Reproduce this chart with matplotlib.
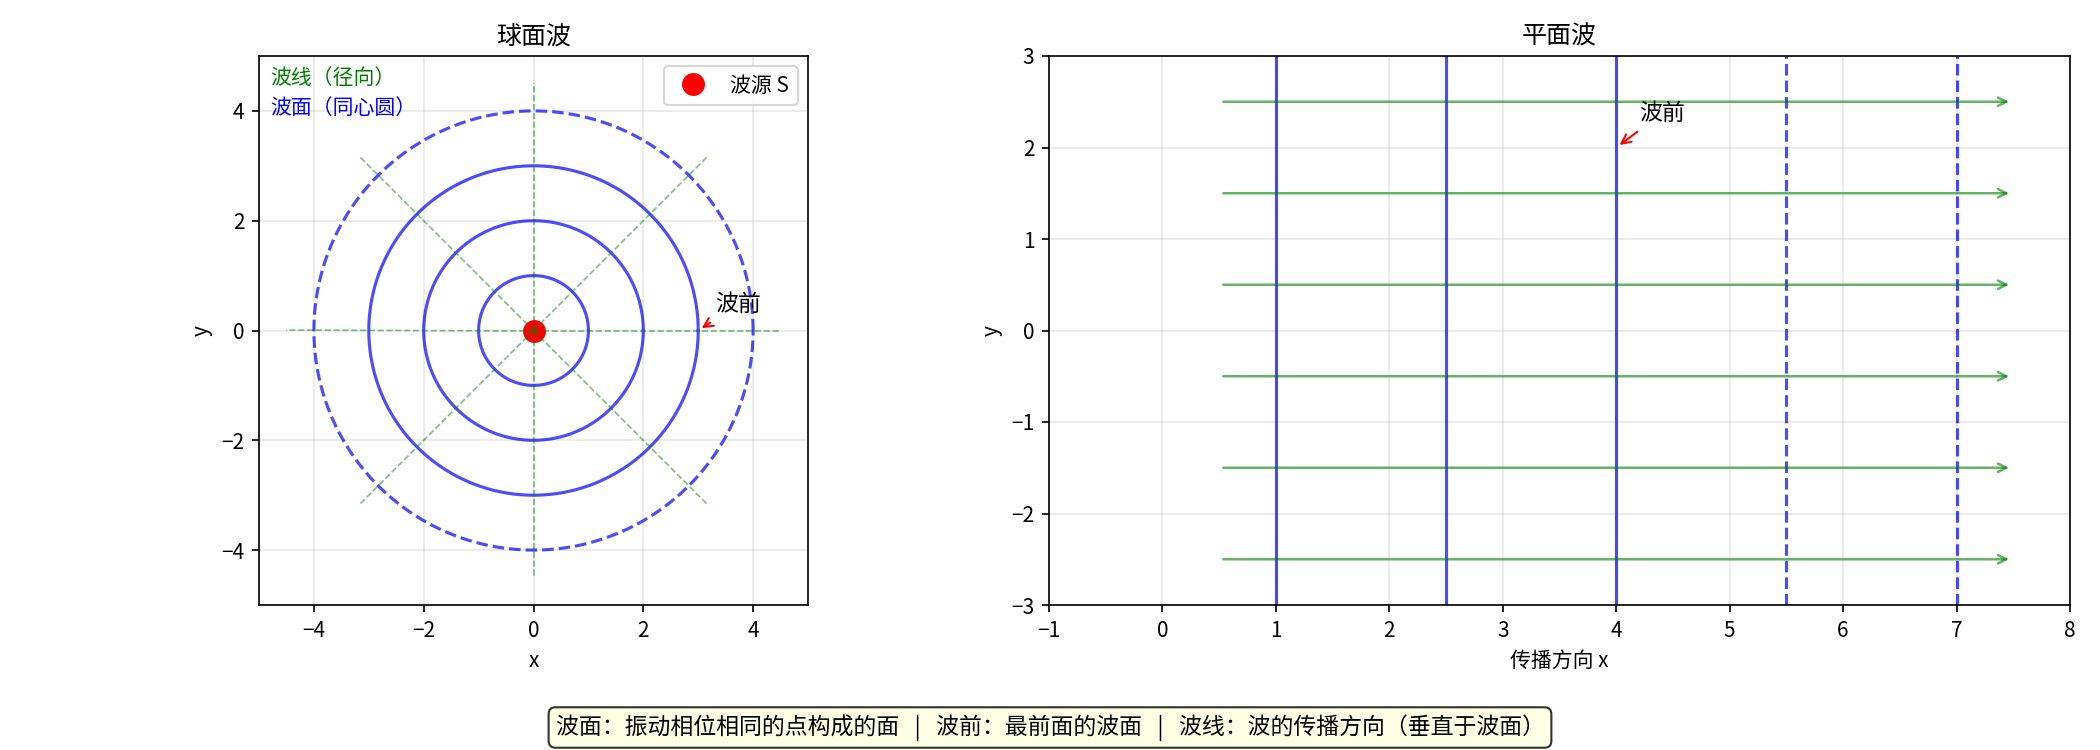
import matplotlib.pyplot as plt
import numpy as np

plt.rcParams['font.family'] = ['Noto Sans CJK SC', 'DejaVu Sans']

# spherical wave
radii = [1, 2, 3]
front_radius = 4
ray_angles_deg = [0, 45, 90, 135, 180, 225, 270, 315]
ray_length = 4.5

# plane wave
plane_fronts = [1, 2.5, 4]
plane_future = [5.5, 7]
ray_y = [-2.5, -1.5, -0.5, 0.5, 1.5, 2.5]
ray_x0, ray_x1 = 0.5, 7.5

fig = plt.figure(figsize=(14, 5), dpi=150)
ax1 = fig.add_axes([258/2100, 1 - 605/750, 551/2100, 549/750])
ax2 = fig.add_axes([1049/2100, 1 - 605/750, 1021/2100, 549/750])

t = np.linspace(0, 2*np.pi, 400)
for r in radii:
    ax1.plot(r*np.cos(t), r*np.sin(t), color='blue', lw=1.5, alpha=0.7)
ax1.plot(front_radius*np.cos(t), front_radius*np.sin(t), color='blue', lw=1.5, ls='--', alpha=0.7)
ax1.plot(0, 0, 'ro', ms=10, label='波源 S', zorder=5)
for a in ray_angles_deg:
    r = np.deg2rad(a)
    ax1.plot([0, ray_length*np.cos(r)], [0, ray_length*np.sin(r)], 'g--', lw=0.8, alpha=0.5, zorder=6)
ax1.annotate('波前', xy=(3, 0), xytext=(3.3, 0.35), fontsize=11,
             arrowprops=dict(arrowstyle='->', color='red'))
ax1.text(0.02, 0.98, '波线（径向）', transform=ax1.transAxes, color='green', va='top', fontsize=10)
ax1.text(0.02, 0.925, '波面（同心圆）', transform=ax1.transAxes, color='blue', va='top', fontsize=10)
ax1.set_xlim(-5, 5)
ax1.set_ylim(-5, 5)
ax1.set_aspect('equal')
ax1.set_xlabel('x')
ax1.set_ylabel('y')
ax1.set_title('球面波', fontsize=12)
ax1.legend(loc='upper right')
ax1.grid(True, alpha=0.3)

for x in plane_fronts:
    ax2.axvline(x, color='blue', lw=1.5, alpha=0.7)
for x in plane_future:
    ax2.axvline(x, color='blue', lw=1.5, ls='--', alpha=0.7)
for y in ray_y:
    ax2.annotate('', xy=(ray_x1, y), xytext=(ray_x0, y),
                 arrowprops=dict(arrowstyle='->', color='green', alpha=0.6, lw=1.2))
ax2.annotate('波前', xy=(4, 2), xytext=(4.2, 2.3), fontsize=11,
             arrowprops=dict(arrowstyle='->', color='red'))
ax2.set_xlim(-1, 8)
ax2.set_ylim(-3, 3)
ax2.set_xlabel('传播方向 x')
ax2.set_ylabel('y')
ax2.set_title('平面波', fontsize=12)
ax2.grid(True, alpha=0.3)

fig.text(0.5, 0.03, '波面：振动相位相同的点构成的面   |   波前：最前面的波面   |   波线：波的传播方向（垂直于波面）',
         ha='center', va='center', fontsize=11,
         bbox=dict(boxstyle='round', facecolor='lightyellow', alpha=0.8))

plt.savefig('out.png')
plt.close(fig)
